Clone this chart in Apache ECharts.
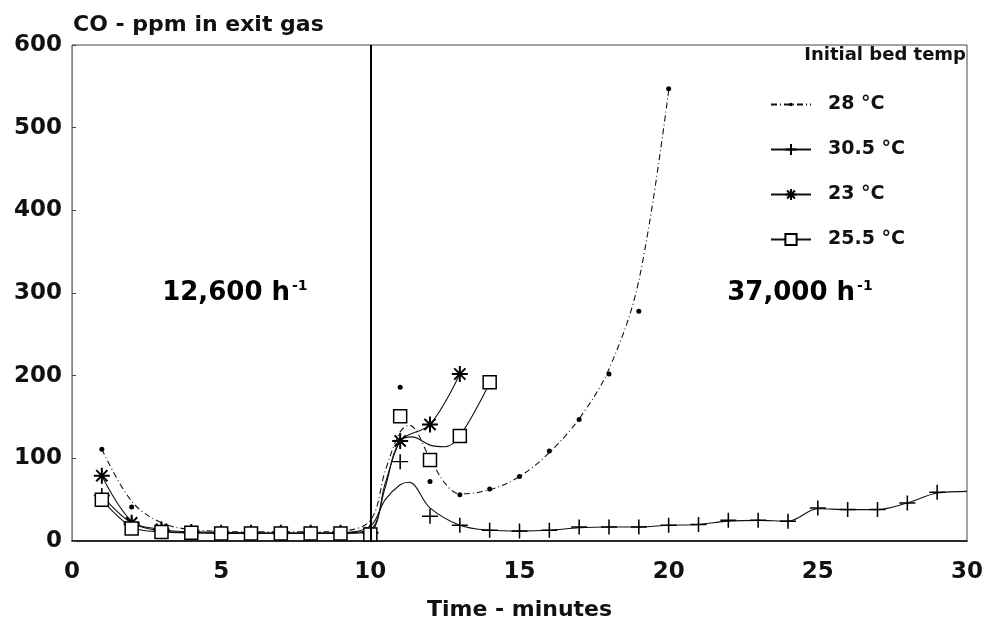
<!DOCTYPE html>
<html>
<head>
<meta charset="utf-8">
<script src="https://cdn.jsdelivr.net/npm/echarts@6/dist/echarts.min.js"></script>
<style>
  html, body {margin: 0; padding: 0; background: #fff;}
  #chart {width: 986px; height: 626px;}
</style>
</head>
<body>
<div id="chart"></div>
<script>
// measured points (minutes, CO ppm)
const t28 = [1, 2, 3, 4, 5, 6, 7, 8, 9, 10, 11, 12, 13, 14, 15, 16, 17, 18, 19, 20];
const co28 = [111, 41, 16, 11, 10, 10, 10, 10, 10, 12, 186, 72, 56, 63, 78, 109, 147, 202, 278, 547];
const t305 = [1, 2, 3, 4, 5, 6, 7, 8, 9, 10, 11, 12, 13, 14, 15, 16, 17, 18, 19, 20, 21, 22, 23, 24, 25, 26, 27, 28, 29];
const co305 = [55, 20, 12, 10, 9, 9, 9, 9, 9, 10, 96, 30, 19, 13, 12, 13, 17, 17, 17, 19, 20, 25, 25, 24, 40, 38, 38, 46, 59];
const t23 = [1, 2, 3, 4, 5, 6, 7, 8, 9, 10, 11, 12, 13];
const co23 = [79, 22, 14, 11, 10, 10, 10, 10, 10, 10, 121, 141, 202];
const t255 = [1, 2, 3, 4, 5, 6, 7, 8, 9, 10, 11, 12, 13, 14];
const co255 = [50, 15, 11, 10, 9, 9, 9, 9, 9, 8, 151, 98, 127, 192];

// fitted curves as drawn in the original
const fit28X = [1, 2, 3, 4, 6, 8, 9, 10, 10.5, 11, 11.3, 12, 12.5, 13, 14, 15, 16, 17, 18, 19, 20];
const fit28Y = [111, 48, 22, 14, 11, 11, 12, 25, 85, 132, 140, 100, 70, 57, 62, 78, 107, 148, 208, 315, 545];
const fit305X = [1, 2, 3, 4, 6, 8, 9, 10, 10.5, 11, 11.3, 12, 13, 14, 15, 16, 17, 18, 19, 20, 21, 22, 23, 24, 25, 26, 27, 28, 29, 30];
const fit305Y = [55, 22, 12, 10, 9, 9, 10, 18, 50, 68, 71, 40, 19, 13, 12, 13, 16, 17, 17, 19, 20, 24, 25, 24, 39, 38, 38, 46, 58, 60];
const fit23X = [1, 2, 3, 4, 6, 8, 9, 10, 10.5, 11, 12, 13];
const fit23Y = [79, 24, 14, 11, 10, 10, 10, 14, 65, 121, 141, 202];
const fit255X = [1, 2, 3, 4, 6, 8, 9, 10, 10.5, 11, 11.4, 12, 12.5, 13, 14];
const fit255Y = [50, 17, 11, 10, 9, 9, 9, 12, 70, 121, 126, 116, 114, 127, 191];

const names = ['28 °C', '30.5 °C', '23 °C', '25.5 °C'];
const noteX = [5.46, 24.4];
const noteY = [300, 300];
const noteText = ['12,600', '37,000'];
const switchTime = 10;

const FONT = 'DejaVu Sans';
const PLUS = 'path://M0,5L10,5M5,0L5,10';
const STAR = 'path://M5,0L5,10M0,5L10,5M1.5,1.5L8.5,8.5M1.5,8.5L8.5,1.5';
// small dot inside a wider box, for the legend key
const DOT = 'path://M0,0M10,10M3.4,5a1.6,1.6 0 1,0 3.2,0a1.6,1.6 0 1,0 -3.2,0Z';

const zip = (xs, ys) => xs.map((x, i) => [x, ys[i]]);

const marks = [
  {symbol: 'circle', key: DOT, size: 5, style: {color: '#000', opacity: 1}},
  {symbol: PLUS, key: PLUS, size: [16, 15], style: {color: 'none', borderColor: '#000', borderWidth: 1.5, opacity: 1}},
  {symbol: STAR, key: STAR, size: 16, style: {color: 'none', borderColor: '#000', borderWidth: 2, opacity: 1}},
  {symbol: 'rect', key: 'rect', size: 13, style: {color: '#fff', borderColor: '#000', borderWidth: 1.5, opacity: 1}}
];
const fits = [zip(fit28X, fit28Y), zip(fit305X, fit305Y), zip(fit23X, fit23Y), zip(fit255X, fit255Y)];
const points = [zip(t28, co28), zip(t305, co305), zip(t23, co23), zip(t255, co255)];
const lineTypes = [[6, 3, 1, 3], 'solid', 'solid', 'solid'];

let series = [];
names.forEach((n, i) => {
  series.push({
    name: n,
    type: 'line',
    data: fits[i],
    smooth: 0.35,
    showSymbol: false,
    symbol: marks[i].key,
    symbolSize: marks[i].size,
    itemStyle: marks[i].style,
    lineStyle: {color: '#111', width: 1.1, type: lineTypes[i]},
    silent: true,
    z: 2
  });
  series.push({
    name: n,
    type: 'scatter',
    data: points[i],
    symbol: marks[i].symbol,
    symbolSize: marks[i].size,
    itemStyle: marks[i].style,
    silent: true,
    z: 3
  });
});

// space velocity labels + change-over line
series.push({
  name: 'notes',
  type: 'scatter',
  data: noteX.map((x, i) => ({value: [x, noteY[i]], name: noteText[i]})),
  symbolSize: 0,
  silent: true,
  itemStyle: {opacity: 1},
  label: {
    show: true,
    position: 'inside',
    formatter: p => '{b|' + p.name + ' h}{s|-1}',
    rich: {
      b: {fontFamily: FONT, fontWeight: 'bold', fontSize: 26, color: '#000'},
      s: {fontFamily: FONT, fontWeight: 'bold', fontSize: 14, color: '#000', verticalAlign: 'top', padding: [0, 0, 14, 2]}
    }
  },
  markLine: {
    silent: true,
    symbol: 'none',
    label: {show: false},
    lineStyle: {color: '#000', width: 2, type: 'solid', opacity: 1},
    data: [{xAxis: switchTime}]
  }
});

let chart = echarts.init(document.getElementById('chart'));
chart.setOption({
  animation: false,
  backgroundColor: '#fff',
  title: {
    text: 'CO - ppm in exit gas',
    left: 68,
    top: 9,
    textStyle: {fontFamily: FONT, fontWeight: 'bold', fontSize: 22, color: '#111'}
  },
  grid: {
    left: 72, right: 18, top: 45, bottom: 83,
    show: true, borderColor: '#444', borderWidth: 1
  },
  legend: {
    data: names,
    orient: 'vertical',
    left: 765,
    top: 90,
    itemWidth: 40,
    itemHeight: 14,
    itemGap: 26,
    textStyle: {fontFamily: FONT, fontWeight: 'bold', fontSize: 19, color: '#111', padding: [0, 0, 0, 12]}
  },
  graphic: [{
    type: 'text',
    right: 20,
    top: 46,
    style: {text: 'Initial bed temp', font: 'bold 18px "DejaVu Sans"', fill: '#111'}
  }],
  xAxis: {
    type: 'value',
    min: 0, max: 30, interval: 5,
    name: 'Time - minutes',
    nameLocation: 'middle',
    nameGap: 58,
    nameTextStyle: {fontFamily: FONT, fontWeight: 'bold', fontSize: 22, color: '#111'},
    axisLine: {lineStyle: {color: '#000', width: 1.5}},
    axisTick: {show: false},
    splitLine: {show: false},
    axisLabel: {fontFamily: FONT, fontWeight: 'bold', fontSize: 23, color: '#111', margin: 20}
  },
  yAxis: {
    type: 'value',
    min: 0, max: 600, interval: 100,
    axisLine: {show: true, lineStyle: {color: '#888', width: 1}},
    axisTick: {show: true, inside: true, length: 4, lineStyle: {color: '#444'}},
    splitLine: {show: false},
    axisLabel: {fontFamily: FONT, fontWeight: 'bold', fontSize: 23, color: '#111', margin: 10}
  },
  series: series
});
</script>
</body>
</html>
